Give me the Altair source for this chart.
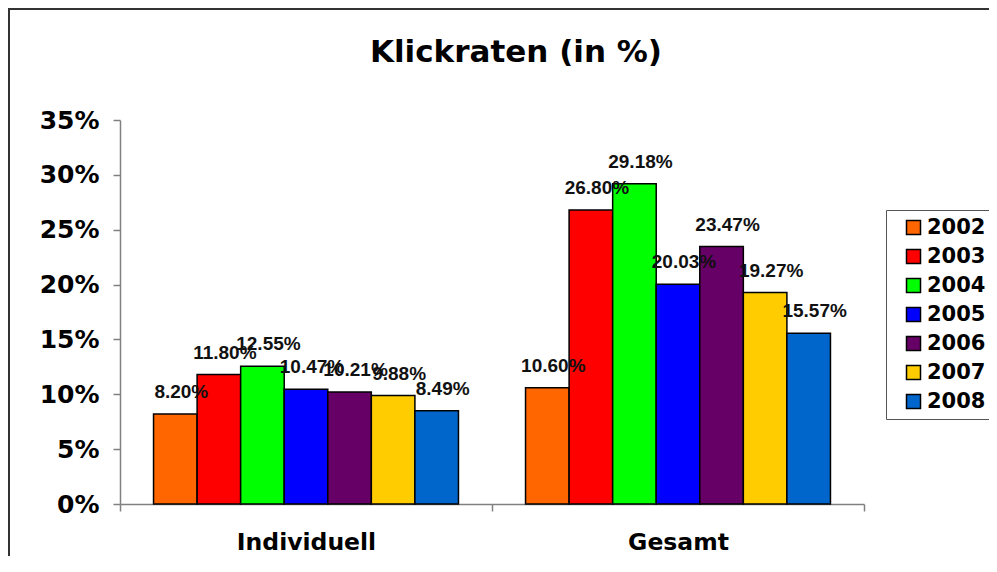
import altair as alt
import pandas as pd

categories = ["Individuell", "Gesamt"]
years = ["2002", "2003", "2004", "2005", "2006", "2007", "2008"]
individuell = [8.20, 11.80, 12.55, 10.47, 10.21, 9.88, 8.49]
gesamt = [10.60, 26.80, 29.18, 20.03, 23.47, 19.27, 15.57]
colors = ["#FF6600", "#FF0000", "#00FF00", "#0000FF", "#660066", "#FFCC00", "#0066CC"]
y_ticks = [0, 5, 10, 15, 20, 25, 30, 35]

rows = []
for cat, vals in zip(categories, [individuell, gesamt]):
    for yr, v in zip(years, vals):
        rows.append({"cat": cat, "year": yr, "value": v, "label": f"{v:.2f}%"})
df = pd.DataFrame(rows)

W, H = 744, 384
AXC = "#808080"

x = alt.X(
    "cat:N", sort=categories, title=None,
    scale=alt.Scale(paddingInner=0, paddingOuter=0),
    axis=alt.Axis(tickBand="extent", labelAngle=0, labelFont="DejaVu Sans",
                  labelFontWeight="bold", labelFontSize=23.5, labelColor="black",
                  labelPadding=19, tickSize=7, domainColor=AXC, tickColor=AXC,
                  domainWidth=1.5, tickWidth=1.5),
)
xo = alt.XOffset("year:N", sort=years, scale=alt.Scale(paddingOuter=0.77, paddingInner=0))
y = alt.Y(
    "value:Q", title=None,
    scale=alt.Scale(domain=[0, 35], nice=False, zero=True),
    axis=alt.Axis(values=y_ticks, labelExpr="datum.value + '%'", grid=False,
                  labelFont="DejaVu Sans", labelFontWeight="bold", labelFontSize=25,
                  labelColor="black", labelPadding=14, tickSize=7, domainColor=AXC,
                  tickColor=AXC, domainWidth=1.5, tickWidth=1.5),
)
color = alt.Color(
    "year:N", sort=years,
    scale=alt.Scale(domain=years, range=colors),
    legend=alt.Legend(orient="none", legendX=766, legendY=90, title=None,
                      strokeColor="#555", fillColor="white", padding=7,
                      symbolType="square", symbolSize=196, symbolStrokeColor="black",
                      symbolStrokeWidth=1.5, symbolOpacity=1, symbolOffset=10,
                      labelFont="DejaVu Sans", labelFontWeight="bold", labelFontSize=21,
                      labelColor="black", labelOffset=3, rowPadding=7),
)

base = alt.Chart(df)
bars = base.mark_bar(stroke="black", strokeWidth=1.5, opacity=1).encode(x=x, xOffset=xo, y=y, color=color)
text = base.mark_text(font="Liberation Sans", fontWeight="bold", fontSize=19, color="#111",
                      dx=6, dy=-22, baseline="middle", align="center").encode(
    x=x, xOffset=xo, y=y, text="label:N")

frame = alt.Chart(pd.DataFrame({"k": [0]})).mark_rect(
    fill="white", fillOpacity=0, stroke="#333", strokeWidth=2).encode(
    x=alt.value(-111), x2=alt.value(W + 400), y=alt.value(-111), y2=alt.value(H + 400))

chart = alt.layer(frame, bars, text).properties(
    width=W, height=H,
    background="white",
    title=alt.TitleParams("Klickraten (in %)", font="DejaVu Sans", fontSize=31,
                          fontWeight="bold", color="black", anchor="middle",
                          baseline="alphabetic", dx=24, dy=85, offset=0),
    autosize=alt.AutoSizeParams(type="none"),
    padding={"left": 112, "top": 112, "right": 125, "bottom": 52},
).configure_view(strokeWidth=0, stroke="transparent")

chart.save("out.html", embed_options={"renderer": "svg", "actions": False})
